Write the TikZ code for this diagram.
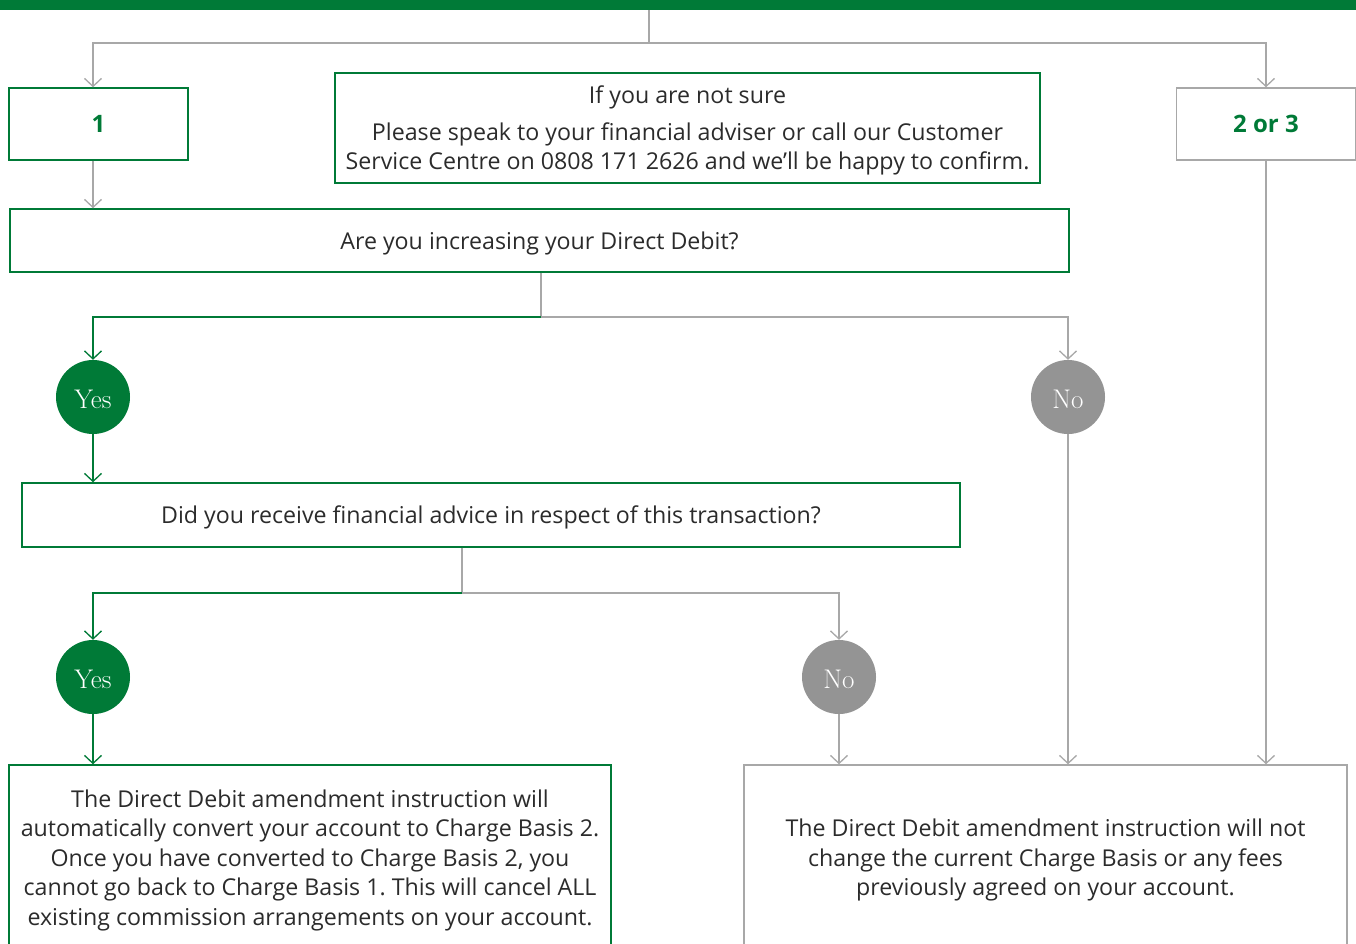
\documentclass[tikz,border=0pt]{standalone}
\usepackage{fontspec}
\newfontfamily\osans{Open Sans}
\usetikzlibrary{arrows.meta}
\definecolor{grn}{HTML}{007A37}
\definecolor{gry}{HTML}{A8A8A8}
\definecolor{nogry}{HTML}{949494}
\definecolor{txt}{HTML}{2B2B2B}
\frenchspacing
\newcommand{\lowered}[1]{\raisebox{-2pt}[\height][\depth]{#1}}
\tikzset{
  boxg/.style={draw=grn, line width=1.4pt, inner sep=0pt, align=center, text=txt,
    text depth=0pt, font=\osans\frenchspacing\fontsize{23.2}{29.5}\selectfont},
  boxy/.style={boxg, draw=gry},
  numtxt/.style={font=\osans\bfseries\fontsize{24}{28}\selectfont, text=grn},
  circ/.style={circle, minimum size=74pt, inner sep=0pt, text=white,
    font=\fontsize{27}{30}\selectfont},
  gl/.style={draw=gry, line width=1.4pt},
  grl/.style={draw=grn, line width=1.4pt},
  arr/.style={-{Straight Barb[length=8pt,width=17pt,line width=1.3pt]}},
}
\begin{document}
\begin{tikzpicture}[x=1pt,y=-1pt]
\clip (0,0) rectangle (1356,943);
\fill[grn] (0,0) rectangle (1356,10);
\coordinate (top) at (649,10);

\node[boxg, minimum width=179pt, minimum height=72pt, numtxt] (box1) at (98.5,124) {1};
\node[boxg, minimum width=705pt, minimum height=110pt] (note) at (687.5,128)
  {If you are not sure\\[7pt] Please speak to your financial adviser or call our Customer\\ Service Centre on 0808 171 2626 and we’ll be happy to confirm.};
\node[boxy, minimum width=179pt, minimum height=72pt, numtxt] (box23) at (1266,124) {2 or 3};
\node[boxg, minimum width=1059pt, minimum height=63pt] (q1) at (539.5,240.5) {Are you increasing your Direct Debit?};
\node[circ, fill=grn] (yes1) at (93,397) {\lowered{Yes}};
\node[circ, fill=nogry] (no1) at (1068,397) {\lowered{No}};
\node[boxg, minimum width=938pt, minimum height=64pt] (q2) at (491,515) {Did you receive financial advice in respect of this transaction?};
\node[circ, fill=grn] (yes2) at (93,677) {\lowered{Yes}};
\node[circ, fill=nogry] (no2) at (839,677) {\lowered{No}};
\node[boxg, minimum width=602pt, minimum height=185pt] (res1) at (310,857.5)
  {The Direct Debit amendment instruction will\\ automatically convert your account to Charge Basis 2.\\ Once you have converted to Charge Basis 2, you\\ cannot go back to Charge Basis 1. This will cancel ALL\\ existing commission arrangements on your account.};
\node[boxy, minimum width=603pt, minimum height=185pt] (res2) at (1045.5,857.5)
  {The Direct Debit amendment instruction will not\\ change the current Charge Basis or any fees\\ previously agreed on your account.};

\coordinate (j0) at (649,43);
\coordinate (s1) at (541,317);
\coordinate (s2) at (462,593);

\draw[gl] (top) -- (j0);
\draw[gl,arr] (j0) -| (yes1 |- box1.north);
\draw[gl,arr] (j0) -| (box23.north);
\draw[gl,arr] (yes1 |- box1.south) -- (yes1 |- q1.north);
\draw[gl] (s1 |- q1.south) -- (s1);
\draw[grl,arr] (s1) -| (yes1.north);
\draw[gl,arr] (s1) -| (no1.north);
\draw[grl,arr] (yes1.south) -- (yes1 |- q2.north);
\draw[gl,arr] (no1.south) -- (no1 |- res2.north);
\draw[gl,arr] (box23.south) -- (box23 |- res2.north);
\draw[gl] (s2 |- q2.south) -- (s2);
\draw[grl,arr] (s2) -| (yes2.north);
\draw[gl,arr] (s2) -| (no2.north);
\draw[grl,arr] (yes2.south) -- (yes2 |- res1.north);
\draw[gl,arr] (no2.south) -- (no2 |- res2.north);
\end{tikzpicture}
\end{document}
